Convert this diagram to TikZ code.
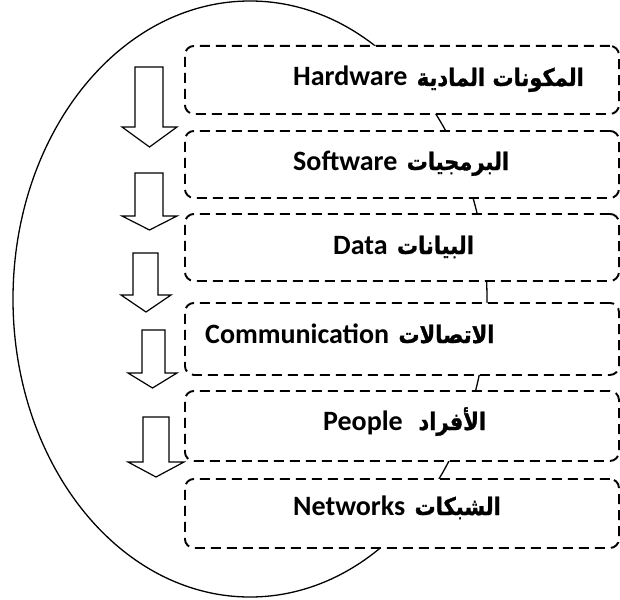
\documentclass[tikz,border=0pt]{standalone}
\usepackage{fontspec}
\setmainfont{Carlito}
\newfontfamily\arabicfont[Script=Arabic,FakeBold=1.2]{DejaVu Sans}
\TeXXeTstate=1
\newcommand\blockarrow[8]{%
  % #1 name, #2 shaft left, #3 shaft right, #4 top, #5 head y, #6 head left, #7 head right, #8 tip y
  \draw[barrow] (#2,#4) -- (#3,#4) -- (#3,#5) -- (#7,#5) -- ({(#6+#7)/2},#8) -- (#6,#5) -- (#2,#5) -- cycle;
  \coordinate (#1) at ({(#6+#7)/2},#8);
}
\newcommand\ar[1]{\kern3pt\scalebox{1}[1.15]{\fontsize{21}{25}\selectfont\arabicfont\bfseries\beginR #1\endR}}
\begin{document}
\begin{tikzpicture}[x=1pt,y=-1pt,
  box/.style={draw, dash pattern=on 10pt off 6pt, line width=1.9pt, rounded corners=9pt,
    fill=white, inner sep=0pt, anchor=north west},
  lbl/.style={font=\fontsize{28}{32}\selectfont\bfseries, inner sep=0pt, anchor=base west},
  ring/.style={line width=1.3pt},
  barrow/.style={draw, line width=1.2pt, fill=white, line join=miter}]
\useasboundingbox (0,0) rectangle (620,599);
\draw[ring] (250,299) ellipse [x radius=237pt, y radius=298pt];
\blockarrow{a1}{135}{163}{67}{127}{122}{177}{147}
\blockarrow{a2}{135}{163}{173}{216}{122}{177}{230}
\blockarrow{a3}{133}{158}{253}{295}{121}{171}{312}
\blockarrow{a4}{142}{165}{330}{373}{128}{177}{388}
\blockarrow{a5}{143}{169}{417}{462}{128}{184}{477}
\node[box, minimum width=434pt, minimum height=68pt] (hw) at (184,45) {};
\node[box, minimum width=434pt, minimum height=67pt] (sw) at (184,130) {};
\node[box, minimum width=434pt, minimum height=67pt] (da) at (184,213) {};
\node[box, minimum width=434pt, minimum height=72pt] (co) at (184,302) {};
\node[box, minimum width=434pt, minimum height=70pt] (pe) at (184,390) {};
\node[box, minimum width=434pt, minimum height=69pt] (ne) at (184,478) {};
\node[lbl] (hwt) at (293,86) {Hardware \ar{المكونات المادية}};
\node[lbl] (swt) at (293,170) {Software \ar{البرمجيات}};
\node[lbl] (dat) at (333,254) {Data \ar{البيانات}};
\node[lbl] (cot) at (205,343) {Communication \ar{الاتصالات}};
\node[lbl] (pet) at (323,430) {People\ \ \ar{الأفراد}};
\node[lbl] (net) at (293,515) {Networks \ar{الشبكات}};
\end{tikzpicture}
\end{document}
